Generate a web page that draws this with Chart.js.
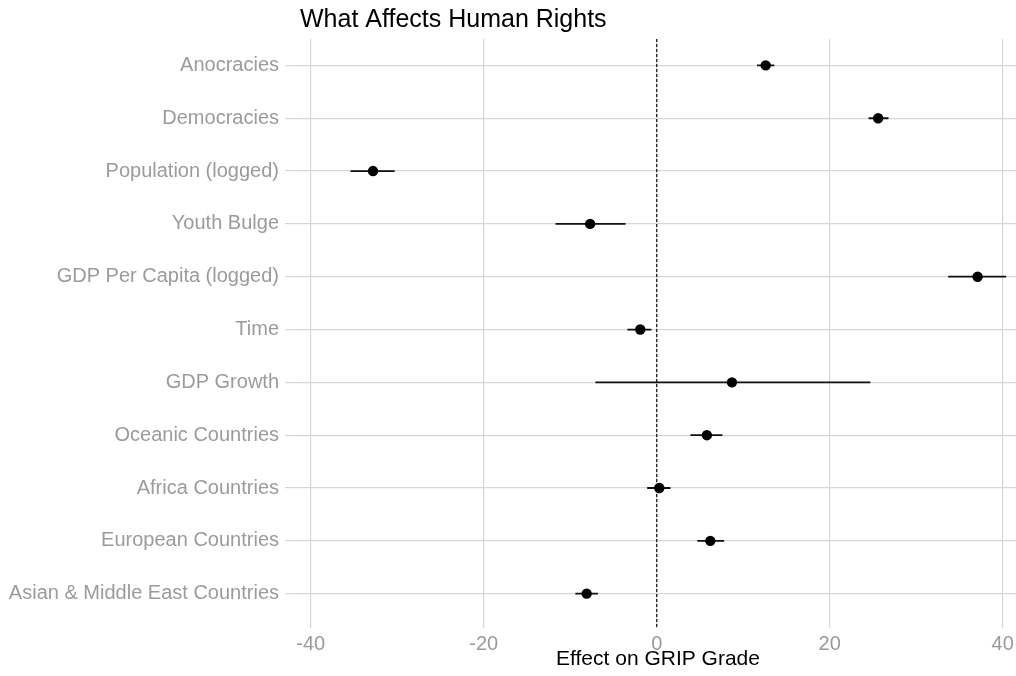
<!DOCTYPE html>
<html>
<head>
<meta charset="utf-8">
<script src="https://cdn.jsdelivr.net/npm/chart.js@4.4.1/dist/chart.umd.min.js"></script>
<style>
  html, body { margin: 0; padding: 0; background: #ffffff; }
  #wrap { width: 1016px; height: 676px; }
</style>
</head>
<body>
<div id="wrap"><canvas id="c" width="1016" height="676"></canvas></div>
<script>
const categories = [
  "Anocracies",
  "Democracies",
  "Population (logged)",
  "Youth Bulge",
  "GDP Per Capita (logged)",
  "Time",
  "GDP Growth",
  "Oceanic Countries",
  "Africa Countries",
  "European Countries",
  "Asian & Middle East Countries"
];
const estimates = [12.6, 25.6, -32.8, -7.7, 37.1, -1.9, 8.7, 5.8, 0.3, 6.2, -8.1];
const lowerCI   = [11.6, 24.5, -35.4, -11.7, 33.7, -3.4, -7.1, 3.9, -1.1, 4.7, -9.4];
const upperCI   = [13.6, 26.8, -30.3, -3.6, 40.4, -0.6, 24.7, 7.6, 1.6, 7.8, -6.8];
const xTickValues = [-40, -20, 0, 20, 40];
const referenceValue = 0;
const chartTitle = "What Affects Human Rights";
const xAxisTitle = "Effect on GRIP Grade";

const FONT = '"Liberation Sans", Arial, Helvetica, sans-serif';
const GRID = '#d6d6d6';
const TICK_TEXT = '#9b9b9b';

const pointData = estimates.map((v, i) => ({ x: v, y: i }));
const barData = [];
categories.forEach((_, i) => {
  barData.push({ x: lowerCI[i], y: i });
  barData.push({ x: upperCI[i], y: i });
  barData.push({ x: NaN, y: NaN });
});
const yMin = -0.5, yMax = 10.65;
const refData = [{ x: referenceValue, y: yMin }, { x: referenceValue, y: yMax }];

new Chart(document.getElementById('c'), {
  type: 'scatter',
  data: {
    datasets: [
      {
        label: 'Estimate',
        data: pointData,
        order: 0,
        pointRadius: 5.2,
        pointHoverRadius: 5.2,
        pointBackgroundColor: '#000000',
        pointBorderColor: '#000000',
        pointBorderWidth: 0,
        showLine: false
      },
      {
        label: 'CI',
        data: barData,
        order: 1,
        showLine: true,
        spanGaps: false,
        pointRadius: 0,
        pointHoverRadius: 0,
        borderColor: '#111111',
        borderWidth: 1.8
      },
      {
        label: 'Zero',
        data: refData,
        order: 2,
        showLine: true,
        pointRadius: 0,
        pointHoverRadius: 0,
        borderColor: '#2a2a2a',
        borderWidth: 1.4,
        borderDash: [3, 2]
      }
    ]
  },
  options: {
    responsive: false,
    animation: false,
    devicePixelRatio: 1,
    layout: { padding: 0, autoPadding: false },
    plugins: {
      legend: { display: false },
      tooltip: { enabled: false },
      title: {
        display: true,
        text: chartTitle,
        align: 'start',
        fullSize: false,
        color: '#000000',
        font: { family: FONT, size: 25, weight: 'normal', lineHeight: 1.2 },
        padding: { top: 5.5, bottom: 3.5 }
      }
    },
    scales: {
      x: {
        type: 'linear',
        position: 'bottom',
        min: -41.24,
        max: 41.54,
        afterBuildTicks: (scale) => { scale.ticks = xTickValues.map(v => ({ value: v })); },
        afterFit: (scale) => { scale.height = 48; scale.paddingLeft = 0; scale.paddingRight = 0; },
        grid: { color: GRID, lineWidth: 1.2, drawTicks: false },
        border: { display: false },
        ticks: {
          color: TICK_TEXT,
          font: { family: FONT, size: 20 },
          padding: 4,
          autoSkip: false,
          maxRotation: 0
        },
        title: {
          display: true,
          text: xAxisTitle,
          color: '#000000',
          font: { family: FONT, size: 21 },
          padding: { top: 0, bottom: 4 }
        }
      },
      y: {
        type: 'linear',
        reverse: true,
        min: yMin,
        max: yMax,
        afterBuildTicks: (scale) => { scale.ticks = categories.map((_, i) => ({ value: i })); },
        afterFit: (scale) => { scale.width = 300; scale.paddingTop = 0; scale.paddingBottom = 0; },
        grid: { color: GRID, lineWidth: 1.2, drawTicks: true, tickLength: 15, tickColor: GRID },
        border: { display: false },
        ticks: {
          color: TICK_TEXT,
          font: { family: FONT, size: 20 },
          padding: 6,
          autoSkip: false,
          callback: (v) => categories[v]
        }
      }
    }
  }
});
</script>
</body>
</html>
